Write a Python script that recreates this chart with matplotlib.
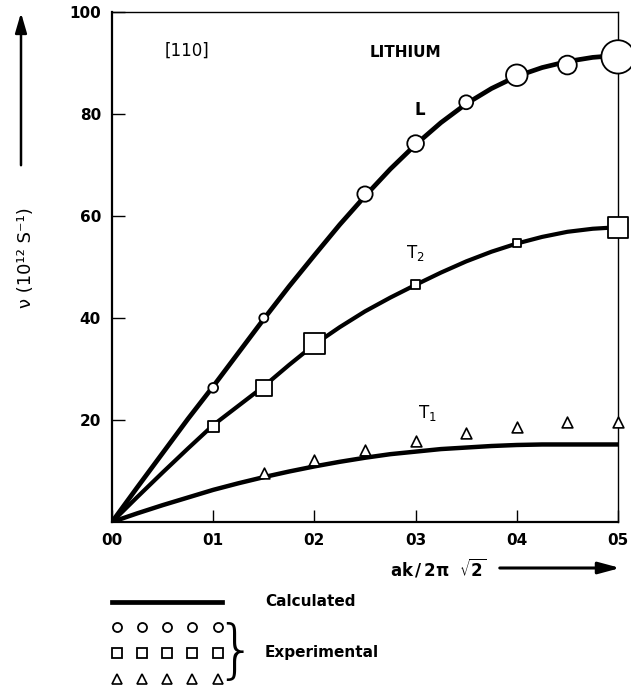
import matplotlib.pyplot as plt
import numpy as np

# =========================
# DATA
# =========================

# calculated dispersion curves on an ak/2pi*sqrt(2) grid
calc_x = [0.0, 0.025, 0.05, 0.075, 0.10, 0.125, 0.15, 0.175, 0.20, 0.225, 0.25,
          0.275, 0.30, 0.325, 0.35, 0.375, 0.40, 0.425, 0.45, 0.475, 0.50]
calc_L = [0.0, 6.8, 13.5, 20.2, 26.6, 33.2, 39.8, 46.2, 52.3, 58.3, 63.9,
          69.2, 74.0, 78.3, 82.0, 85.0, 87.4, 89.1, 90.3, 91.1, 91.5]
calc_T2 = [0.0, 4.9, 9.7, 14.4, 19.0, 22.8, 26.6, 30.8, 34.8, 38.2, 41.3,
           44.0, 46.5, 48.9, 51.1, 53.0, 54.6, 55.9, 56.9, 57.5, 57.8]
calc_T1 = [0.0, 1.7, 3.3, 4.8, 6.3, 7.6, 8.8, 9.9, 10.9, 11.8, 12.6,
           13.3, 13.8, 14.3, 14.6, 14.9, 15.1, 15.2, 15.2, 15.2, 15.2]

# experimental points
exp_L_x = [0.10, 0.15, 0.25, 0.30, 0.35, 0.40, 0.45, 0.50]
exp_L_y = [26.3, 40.0, 64.3, 74.2, 82.3, 87.6, 89.6, 91.2]
exp_L_size = [7.0, 6.5, 11.0, 12.0, 10.0, 15.5, 13.5, 24.0]

exp_T2_x = [0.10, 0.15, 0.20, 0.30, 0.40, 0.50]
exp_T2_y = [18.8, 26.3, 35.0, 46.5, 54.7, 57.8]
exp_T2_size = [8.0, 11.5, 15.0, 6.5, 5.5, 15.0]

exp_T1_x = [0.15, 0.20, 0.25, 0.30, 0.35, 0.40, 0.45, 0.50]
exp_T1_y = [9.6, 12.2, 14.1, 15.9, 17.4, 18.6, 19.6, 19.6]

x_ticks = [0.0, 0.1, 0.2, 0.3, 0.4, 0.5]
x_tick_labels = ["00", "01", "02", "03", "04", "05"]
y_ticks = [20, 40, 60, 80, 100]

# =========================
# FIGURE
# =========================

plt.rcParams['font.family'] = ['DejaVu Sans']

fig = plt.figure(figsize=(6.31, 6.94), dpi=100)
ax = fig.add_axes([112/631, 1 - 522/694, 506/631, 510/694])

ax.plot(calc_x, calc_L, color="black", lw=3.4, zorder=2, solid_capstyle="round")
ax.plot(calc_x, calc_T2, color="black", lw=3.0, zorder=2, solid_capstyle="round")
ax.plot(calc_x, calc_T1, color="black", lw=3.2, zorder=2, solid_capstyle="round")

ax.scatter(exp_L_x, exp_L_y, s=np.array(exp_L_size) ** 2, marker="o",
           facecolor="white", edgecolor="black", linewidth=1.3, zorder=3, clip_on=False)
ax.scatter(exp_T2_x, exp_T2_y, s=np.array(exp_T2_size) ** 2, marker="s",
           facecolor="white", edgecolor="black", linewidth=1.3, zorder=3, clip_on=False)
ax.scatter(exp_T1_x, exp_T1_y, s=60, marker="^",
           facecolor="white", edgecolor="black", linewidth=1.2, zorder=3, clip_on=False)

ax.set_xlim(0, 0.5)
ax.set_ylim(0, 100)
ax.set_xticks(x_ticks)
ax.set_xticklabels(x_tick_labels)
ax.set_yticks(y_ticks)
ax.tick_params(direction="in", length=9, width=1.0, labelsize=11, pad=8)
for lab in ax.get_xticklabels() + ax.get_yticklabels():
    lab.set_fontweight("bold")

ax.spines["left"].set_linewidth(1.6)
ax.spines["bottom"].set_linewidth(1.6)
ax.spines["top"].set_linewidth(1.0)
ax.spines["right"].set_linewidth(1.0)

# annotations inside the plot
ax.text(0.074, 92.5, "[110]", fontsize=12, ha="center", va="center")
ax.text(0.29, 92.0, "LITHIUM", fontsize=11, fontweight="bold", ha="center", va="center")
ax.text(0.304, 80.8, "L", fontsize=12, fontweight="semibold", ha="center", va="center")
ax.text(0.30, 52.7, "T$_2$", fontsize=12, ha="center", va="center")
ax.text(0.312, 21.4, "T$_1$", fontsize=12, ha="center", va="center")

# =========================
# AXIS LABELS WITH ARROWS
# =========================

ov = fig.add_axes([0, 0, 1, 1])
ov.set_xlim(0, 631)
ov.set_ylim(694, 0)
ov.axis("off")

ov.text(26, 258, "ν (10¹² S⁻¹)", rotation=90, fontsize=13,
        ha="center", va="center")
ov.annotate("", xy=(21, 10), xytext=(21, 168),
            arrowprops=dict(arrowstyle="-|>,head_length=1.2,head_width=0.35",
                            color="black", lw=1.8))

ov.text(438, 568, r"$\mathbf{ak\,/\,2\pi}\ \ \sqrt{\mathbf{2}}$", fontsize=12,
        ha="center", va="center")
ov.annotate("", xy=(623, 568), xytext=(497, 568),
            arrowprops=dict(arrowstyle="-|>,head_length=1.3,head_width=0.35",
                            color="black", lw=2.2))

# =========================
# LEGEND
# =========================

ov.plot([112, 222], [602, 602], color="black", lw=3.4)
ov.text(265, 602, "Calculated", fontsize=11, fontweight="bold", va="center")

legend_x = [117, 142, 167, 192, 218]
ov.plot(legend_x, [627] * 5, ls="none", marker="o", ms=6.5,
        mfc="white", mec="black", mew=1.3)
ov.plot(legend_x, [653] * 5, ls="none", marker="s", ms=7,
        mfc="white", mec="black", mew=1.3)
ov.plot(legend_x, [679] * 5, ls="none", marker="^", ms=7,
        mfc="white", mec="black", mew=1.2)

ov.text(236, 653, "}", fontsize=46, ha="center", va="center", fontweight="light")
ov.text(265, 653, "Experimental", fontsize=11, fontweight="bold", va="center")

plt.savefig("out.png", dpi=100)
